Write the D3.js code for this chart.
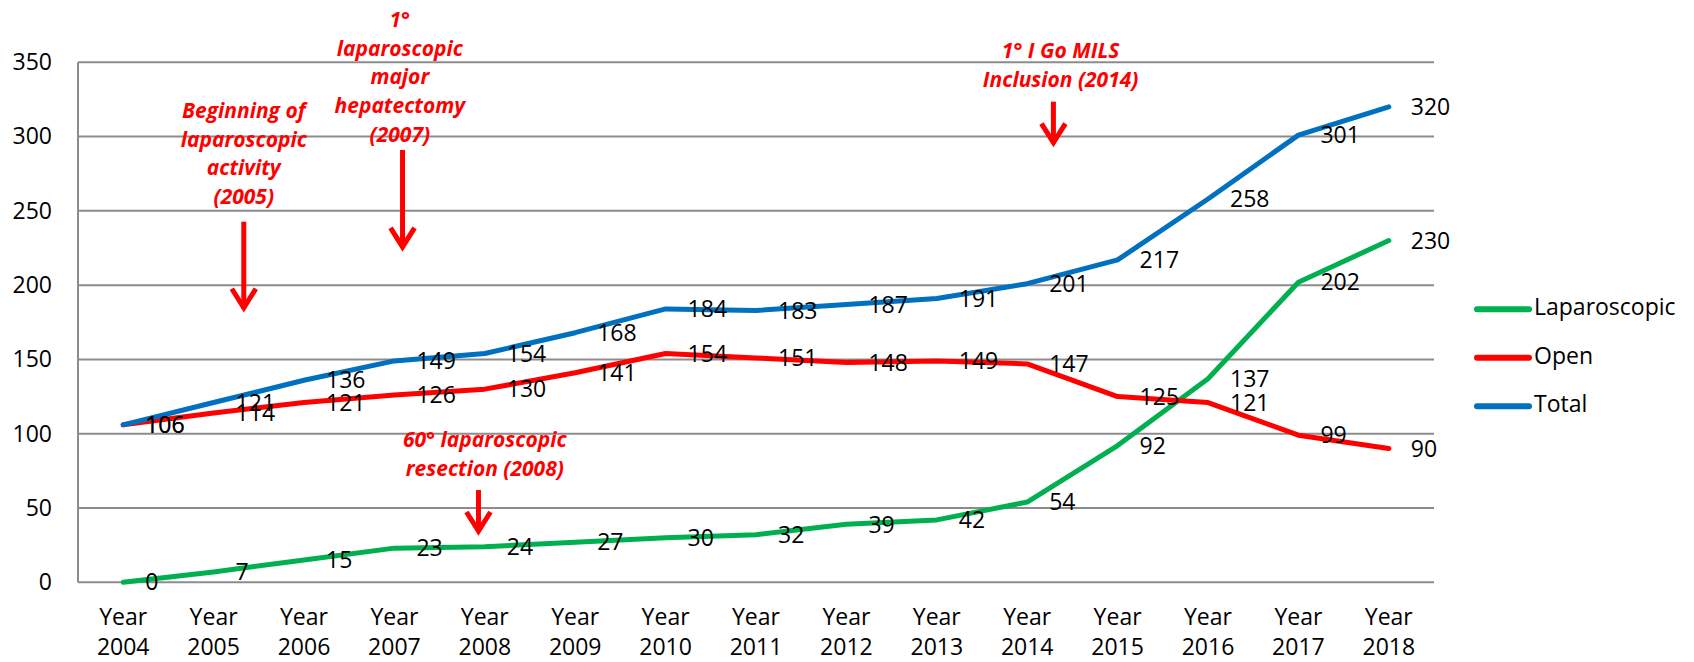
<!DOCTYPE html>
<html>
<head>
<meta charset="utf-8">
<script src="https://cdn.jsdelivr.net/npm/d3@7"></script>
<style>
  html, body { margin: 0; padding: 0; background: #fff; }
  text { font-family: "Open Sans", "DejaVu Sans", sans-serif; }
</style>
</head>
<body>
<svg id="chart" width="1694" height="662"></svg>
<script>
// ---- data ----
const years = ["2004","2005","2006","2007","2008","2009","2010","2011","2012","2013","2014","2015","2016","2017","2018"];
const laparoscopic = [0,7,15,23,24,27,30,32,39,42,54,92,137,202,230];
const open = [106,114,121,126,130,141,154,151,148,149,147,125,121,99,90];
const total = [106,121,136,149,154,168,184,183,187,191,201,217,258,301,320];
const seriesNames = ["Laparoscopic","Open","Total"];
const yTicks = [0,50,100,150,200,250,300,350];

// annotations: lines of text, x position (category index), text baseline value, arrow from/to value
const annLines = [
  ["Beginning of","laparoscopic","activity","(2005)"],
  ["1°","laparoscopic","major","hepatectomy","(2007)"],
  ["1°  I Go MILS","Inclusion (2014)"],
  ["60°  laparoscopic","resection (2008)"]
];
const annTextX = [1.334, 3.06, 10.37, 4.0];
const annTextY = [312.5, 373.6, 352.7, 91];
const annArrowX = [1.334, 3.09, 10.29, 3.93];
const annArrowFrom = [242.7, 291, 323.5, 62.1];
const annArrowTo = [182.8, 223.7, 293.9, 32.5];

// ---- layout ----
const svg = d3.select("#chart");
const pLeft = 78, pRight = 1434, pTop = 62.3, pBottom = 582.3;
const colors = ["#00B050", "#FF0000", "#0070C0"];
const seriesData = [laparoscopic, open, total];

const x = d3.scalePoint().domain(years).range([pLeft, pRight]).padding(0.5);
const step = x.step();
const xi = i => x(years[0]) + i * step;
const y = d3.scaleLinear().domain([0, 350]).range([pBottom, pTop]);

// gridlines
svg.append("g").selectAll("line").data(yTicks).join("line")
  .attr("x1", pLeft).attr("x2", pRight)
  .attr("y1", d => y(d)).attr("y2", d => y(d))
  .attr("stroke", "#8c8c8c").attr("stroke-width", 2);

// y axis line
svg.append("line").attr("x1", pLeft).attr("x2", pLeft).attr("y1", y(350)).attr("y2", y(0))
  .attr("stroke", "#8c8c8c").attr("stroke-width", 2);

// y tick labels
const yAxis = d3.axisLeft(y).tickValues(yTicks).tickSize(0).tickPadding(0);
const gy = svg.append("g").attr("transform", `translate(${52},0)`).call(yAxis);
gy.select(".domain").remove();
gy.selectAll("text").attr("font-size", 23).attr("fill", "#000")
  .style("font-family", '"Open Sans", sans-serif');

// x tick labels (two lines)
const xl = svg.append("g").selectAll("text").data(years).join("text")
  .attr("x", d => x(d)).attr("text-anchor", "middle")
  .attr("font-size", 23).attr("fill", "#000");
xl.append("tspan").attr("x", d => x(d)).attr("y", 625).text("Year");
xl.append("tspan").attr("x", d => x(d)).attr("y", 655).text(d => d);

// lines
const line = d3.line().x((d, i) => x(years[i])).y(d => y(d));
seriesData.forEach((s, k) => {
  svg.append("path").datum(s).attr("d", line)
    .attr("fill", "none").attr("stroke", colors[k]).attr("stroke-width", 5)
    .attr("stroke-linecap", "round").attr("stroke-linejoin", "round");
});

// data labels
seriesData.forEach((s, k) => {
  svg.append("g").selectAll("text").data(s).join("text")
    .attr("x", (d, i) => x(years[i]) + 22)
    .attr("y", d => y(d) + 2)
    .attr("dominant-baseline", "middle")
    .attr("font-size", 23).attr("fill", "#000")
    .text(d => d);
});

// legend
const legY = [309.3, 357.8, 406.3];
const lg = svg.append("g").selectAll("g").data(seriesNames).join("g");
lg.append("line").attr("x1", 1477).attr("x2", 1529)
  .attr("y1", (d, i) => legY[i]).attr("y2", (d, i) => legY[i])
  .attr("stroke", (d, i) => colors[i]).attr("stroke-width", 6).attr("stroke-linecap", "round");
lg.append("text").attr("x", 1534).attr("y", (d, i) => legY[i])
  .attr("dominant-baseline", "middle").attr("font-size", 23).attr("fill", "#000")
  .text(d => d);

// annotations
const red = "#FF0000";
annLines.forEach((lines, k) => {
  const tx = xi(annTextX[k]);
  const t = svg.append("text").attr("text-anchor", "middle")
    .attr("font-size", 21).attr("font-weight", "bold").attr("font-style", "italic")
    .attr("fill", red);
  lines.forEach((ln, j) => {
    t.append("tspan").attr("x", tx).attr("y", y(annTextY[k]) + j * 28.6).text(ln);
  });
  const ax = xi(annArrowX[k]);
  const y0 = y(annArrowFrom[k]), y1 = y(annArrowTo[k]);
  svg.append("line").attr("x1", ax).attr("x2", ax).attr("y1", y0).attr("y2", y1 - 2)
    .attr("stroke", red).attr("stroke-width", 5);
  svg.append("path")
    .attr("d", `M${ax - 12},${y1 - 22} L${ax},${y1 - 3} L${ax + 12},${y1 - 22}`)
    .attr("fill", "none").attr("stroke", red).attr("stroke-width", 5)
    .attr("stroke-linejoin", "miter");
});
</script>
</body>
</html>
